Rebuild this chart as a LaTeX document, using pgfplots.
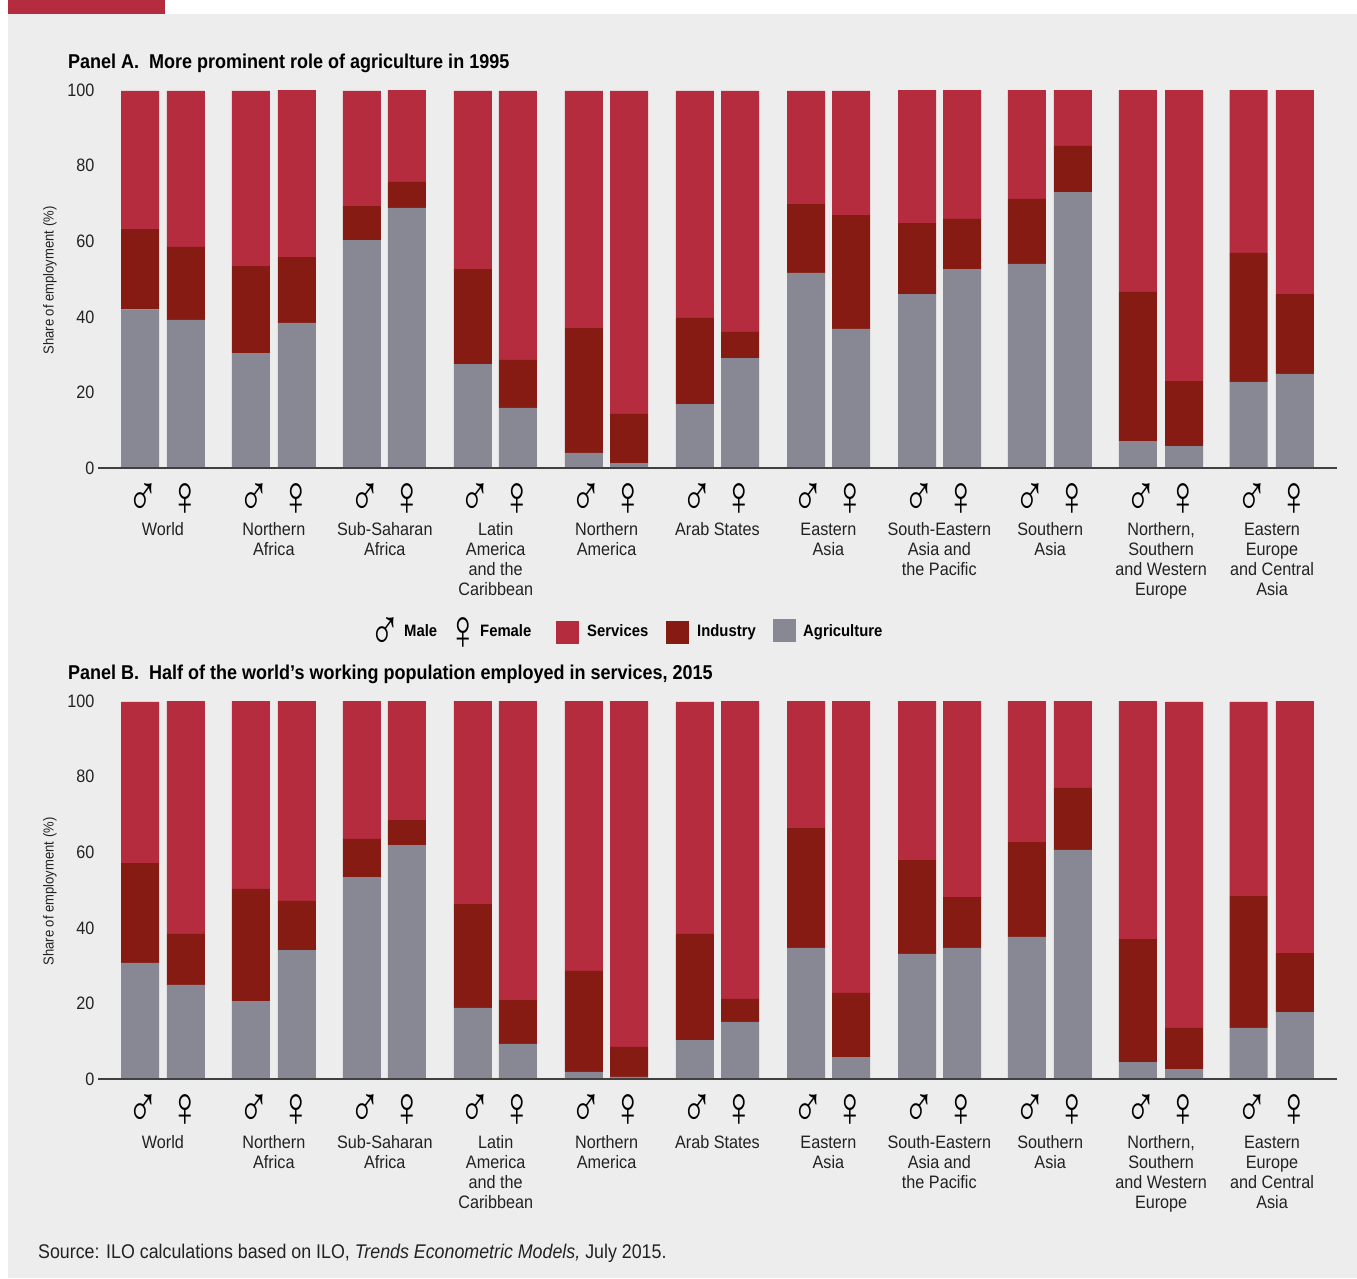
\documentclass[border=0pt]{standalone}
\usepackage{fontspec}
\usepackage{pgfplots}
\usepackage{pgfplotstable}
\pgfplotsset{compat=1.18}
\setmainfont{Liberation Sans}[FakeStretch=0.90]
\newfontfamily\symfont{Liberation Sans}

\definecolor{services}{HTML}{B52C3E}
\definecolor{industry}{HTML}{851B12}
\definecolor{agric}{HTML}{888894}
\definecolor{panelbg}{HTML}{EDEDED}
\definecolor{axisline}{HTML}{404040}
\definecolor{labeltext}{HTML}{222222}

% x: group number, about -0.2 male, +0.2 female
\pgfplotstableread{
x      agr   ind   ser
-0.207 42.0  21.2  36.6
0.207  39.2  19.3  41.3
0.793  30.4  23.0  46.4
1.208  38.4  17.4  44.2
1.794  60.3  9.0   30.5
2.200  68.8  6.9   24.3
2.795  27.5  25.1  47.2
3.200  15.9  12.7  71.2
3.796  4.0   33.0  62.8
4.202  1.3   13.0  85.5
4.797  16.9  22.8  60.1
5.203  29.1  6.9   63.8
5.798  51.6  18.2  30.0
6.204  36.8  30.1  32.9
6.799  46.0  18.8  35.2
7.205  52.6  13.3  34.1
7.790  54.0  17.2  28.8
8.205  73.0  12.2  14.8
8.790  7.1   39.5  53.4
9.207  5.8   17.2  77.0
9.790  22.8  34.1  43.1
10.207 24.9  21.1  54.0
}\panelA

\pgfplotstableread{
x      agr   ind   ser
-0.207 30.7  26.4  42.7
0.207  24.9  13.5  61.6
0.793  20.6  29.7  49.7
1.208  34.1  13.0  52.9
1.794  53.4  10.1  36.5
2.200  61.9  6.6   31.5
2.795  18.8  27.5  53.7
3.200  9.3   11.6  79.1
3.796  1.9   26.7  71.4
4.202  0.6   7.9   91.5
4.797  10.3  28.1  61.4
5.203  15.1  6.1   78.8
5.798  34.7  31.7  33.6
6.204  5.8   17.0  77.2
6.799  33.1  24.8  42.1
7.205  34.7  13.4  51.9
7.790  37.6  25.1  37.3
8.205  60.6  16.4  23.0
8.790  4.5   32.5  63.0
9.207  2.6   10.9  86.3
9.790  13.5  34.9  51.4
10.207 17.7  15.6  66.7
}\panelB

\pgfplotsset{
  panel/.style={
    scale only axis, width=1239pt, height=378pt,
    xmin=-0.586, xmax=10.586, ymin=0, ymax=100,
    ybar stacked, bar width=38pt,
    axis x line*=bottom, axis y line*=left,
    x axis line style={-, draw=axisline, line width=2pt},
    y axis line style={draw=none},
    axis on top,
    ytick={0,20,...,100},
    major tick length=0pt,
    /pgf/number format/assume math mode=true,
    y tick label style={font=\fontsize{18}{20}\selectfont, text=labeltext},
    ylabel={Share of employment (\%)},
    ylabel style={font=\fontsize{14.5}{17}\selectfont, text=labeltext, at={(axis description cs:0,0.5)}, anchor=center, yshift=48pt, xshift=-1.5pt},
    xtick={-0.18,0.198,0.82,1.198,1.82,2.198,2.82,3.198,3.82,4.198,4.82,5.198,5.82,6.198,6.82,7.198,7.82,8.198,8.82,9.198,9.82,10.198},
    xticklabels={\male,\female,\male,\female,\male,\female,\male,\female,\male,\female,\male,\female,\male,\female,\male,\female,\male,\female,\male,\female,\male,\female},
    x tick label style={yshift=-11.7pt},
    extra x ticks={0,1,...,10},
    extra x tick labels={{World},{Northern\\Africa},{Sub-Saharan\\Africa},{Latin\\America\\and the\\Caribbean},{Northern\\America},{Arab States},{\vphantom{h}Eastern\\Asia},{South-Eastern\\Asia and\\the Pacific},{Southern\\Asia},{Northern,\\Southern\\and Western\\Europe},{\vphantom{h}Eastern\\Europe\\and Central\\Asia}},
    extra x tick style={
      x tick label style={yshift=-39.3pt, align=center, text=labeltext, font=\fontsize{18}{20}\selectfont},
    },
  },
}
\tikzset{
  txt/.style={anchor=base west, inner sep=0pt},
  head/.style={txt, font=\fontsize{20}{22}\selectfont\bfseries},
  leg/.style={txt, font=\fontsize{16.5}{20}\selectfont\bfseries},
}
% zero depth, so that the symbol's box stops above the group label
\newcommand{\male}{\raisebox{0pt}[\height][0pt]{\scalebox{1}[1.35]{\symfont\fontsize{42}{42}\selectfont ♂}}}
\newcommand{\female}{\raisebox{0pt}[\height][0pt]{\scalebox{1}[1.35]{\symfont\fontsize{42}{42}\selectfont ♀}}}

\begin{document}
\begin{tikzpicture}[x=1pt,y=1pt]
  \useasboundingbox (0,0) rectangle (1357,-1278);
  % page background
  \fill[white] (0,0) rectangle (1357,-1278);
  \fill[panelbg] (8,-14) rectangle (1357,-1278);
  \fill[services] (8,0) rectangle (165,-14);

  \node[head] at (68,-68) {Panel A.\ \ More prominent role of agriculture in 1995};
  \begin{axis}[panel, at={(98pt,-468pt)}, anchor=south west]
    \addplot[fill=agric, draw=none] table[x=x,y=agr] {\panelA};
    \addplot[fill=industry, draw=none] table[x=x,y=ind] {\panelA};
    \addplot[fill=services, draw=none] table[x=x,y=ser] {\panelA};
  \end{axis}

  % legend between the panels
  \node[anchor=north] at (385,-613.7) {\male};
  \node[leg] at (404,-636) {Male};
  \node[anchor=north] at (463,-613.7) {\female};
  \node[leg] at (480,-636) {Female};
  \fill[services] (556,-620.5) rectangle (579,-644);
  \node[leg] at (587,-636) {Services};
  \fill[industry] (666,-620.5) rectangle (689,-644);
  \node[leg] at (697,-636) {Industry};
  \fill[agric] (773,-618.5) rectangle (796,-642);
  \node[leg] at (803,-636) {Agriculture};

  \node[head] at (68,-679) {Panel B.\ \ Half of the world’s working population employed in services, 2015};
  \begin{axis}[panel, at={(98pt,-1079pt)}, anchor=south west,
      extra x tick style={x tick label style={yshift=-2pt}}]
    \addplot[fill=agric, draw=none] table[x=x,y=agr] {\panelB};
    \addplot[fill=industry, draw=none] table[x=x,y=ind] {\panelB};
    \addplot[fill=services, draw=none] table[x=x,y=ser] {\panelB};
  \end{axis}

  \node[txt, text=labeltext, font=\fontsize{19.8}{22}\selectfont] at (38,-1258) {Source: ILO calculations based on ILO, \textit{Trends Econometric Models,} July 2015.};
\end{tikzpicture}
\end{document}
